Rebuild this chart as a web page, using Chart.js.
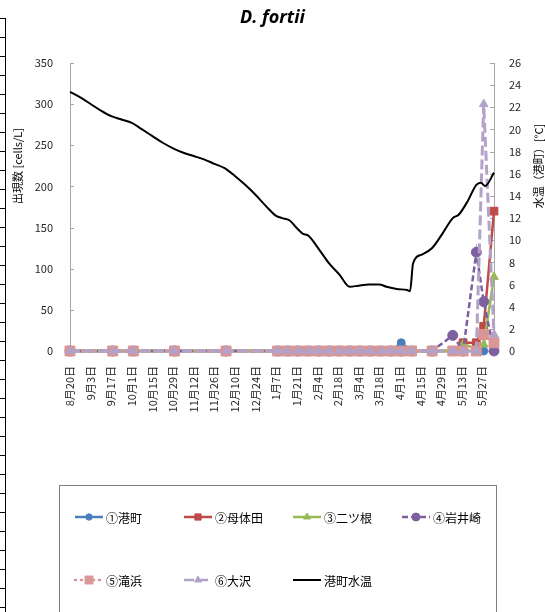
<!DOCTYPE html>
<html>
<head>
<meta charset="utf-8">
<title>D. fortii</title>
<script src="https://cdn.jsdelivr.net/npm/chart.js"></script>
<style>
  body { margin: 0; background: #fff; }
  #wrap { position: relative; width: 545px; height: 612px; }
  /* spreadsheet cell edge visible at the left of the screenshot */
  #cells {
    position: absolute; left: 0; top: 18px; width: 5px; height: 594px;
    border-right: 1px solid #000;
    background: repeating-linear-gradient(to bottom, #000 0, #000 1px, transparent 1px, transparent 19px);
  }
</style>
</head>
<body>
<div id="wrap">
  <canvas id="chart"></canvas>
  <div id="cells"></div>
</div>
<script>
// sampling dates (season 2012-2013)
const sampleDates = ['8/20', '9/18', '10/2', '10/30', '12/4', '1/8', '1/15', '1/22', '1/29', '2/5',
    '2/12', '2/19', '2/26', '3/5', '3/12', '3/19', '3/26', '4/2', '4/9', '4/23',
    '5/7', '5/14', '5/23', '5/28', '6/4'];

// cells/L per station
const minatomachi = [0, 0, 0, 0, 0, 0, 0, 0, 0, 0, 0, 0, 0, 0, 0, 0, 0, 10, 0, 0, 0, 0, 0, 0, null];
const motaida     = [0, 0, 0, 0, 0, 0, 0, 0, 0, 0, 0, 0, 0, 0, 0, 0, 0, 0, 0, 0, 0, 10, 10, 30, 170];
const futatsune   = [0, 0, 0, 0, 0, 0, 0, 0, 0, 0, 0, 0, 0, 0, 0, 0, 0, 0, 0, 0, 0, 8, 3, 8, 90];
const iwaisaki    = [0, 0, 0, 0, 0, 0, 0, 0, 0, 0, 0, 0, 0, 0, 0, 0, 0, 0, 0, 0, 19, 0, 120, 60, 0];
const takinohama  = [0, 0, 0, 0, 0, 0, 0, 0, 0, 0, 0, 0, 0, 0, 0, 0, 0, 0, 0, 0, 0, 0, 0, 20, 10];
const osawa       = [0, 0, 0, 0, 0, 0, 0, 0, 0, 0, 0, 0, 0, 0, 0, 0, 0, 0, 0, 0, 0, 0, 0, 300, 20];

// water temperature at Minatomachi [°C]
const tempDates = ['8/20', '8/27', '9/3', '9/10', '9/17', '9/24', '10/1', '10/8', '10/15', '10/22',
    '10/29', '11/5', '11/12', '11/19', '11/26', '12/3', '12/10', '12/17', '12/24', '12/31',
    '1/7', '1/11', '1/16', '1/21', '1/25', '1/29', '2/5', '2/12', '2/19', '2/26',
    '3/4', '3/11', '3/18', '3/23', '3/30', '4/6', '4/8', '4/10', '4/16', '4/23',
    '4/30', '5/7', '5/11', '5/17', '5/23', '5/26', '5/29', '6/4'];
const tempValues = [23.4, 22.9, 22.3, 21.7, 21.2, 20.9, 20.6, 20.0, 19.4, 18.8,
    18.3, 17.9, 17.6, 17.3, 16.9, 16.5, 15.8, 15.0, 14.1, 13.1,
    12.2, 12.0, 11.8, 11.1, 10.6, 10.4, 9.2, 7.9, 6.9, 5.8,
    5.9, 6.0, 6.0, 5.8, 5.6, 5.5, 5.4, 7.9, 8.7, 9.3,
    10.6, 12.0, 12.3, 13.5, 15.0, 15.2, 14.9, 16.1];

// axis ticks
const xTickDates = ['8/20', '9/3', '9/17', '10/1', '10/15', '10/29', '11/12', '11/26', '12/10', '12/24',
    '1/7', '1/21', '2/4', '2/18', '3/4', '3/18', '4/1', '4/15', '4/29', '5/13', '5/27'];
const xMinDate = '8/20';
const xMaxDate = '6/4';
const countTicks = [0, 50, 100, 150, 200, 250, 300, 350];
const tempTicks = [0, 2, 4, 6, 8, 10, 12, 14, 16, 18, 20, 22, 24, 26];

const FONT = '"Noto Sans CJK JP", "Noto Sans", sans-serif';
const START = Date.UTC(2012, 7, 20);

function dayOf(s) {
    const [m, d] = s.split('/').map(Number);
    const year = m >= 8 ? 2012 : 2013;
    return Math.round((Date.UTC(year, m - 1, d) - START) / 86400000);
}

function dateLabel(day) {
    const dt = new Date(START + day * 86400000);
    return (dt.getUTCMonth() + 1) + '月' + dt.getUTCDate() + '日';
}

function station(label, values, color, style, radius, extra) {
    return Object.assign({
        label: label,
        data: values,
        yAxisID: 'y',
        borderColor: color,
        backgroundColor: color,
        pointBackgroundColor: color,
        pointBorderColor: color,
        borderWidth: 2.5,
        pointStyle: style,
        pointRadius: radius,
        pointBorderWidth: 1,
        legendRadius: radius * 0.8,
        tension: 0,
        clip: false
    }, extra || {});
}

const datasets = [
    station('①港町', minatomachi, '#4a7ebb', 'circle', 4),
    station('②母体田', motaida, '#be4b48', 'rect', 5.5),
    station('③二ツ根', futatsune, '#98b954', 'triangle', 5),
    station('④岩井崎', iwaisaki, '#7d60a0', 'circle', 5, {borderDash: [6, 3]}),
    station('⑤滝浜', takinohama, '#d99694', 'rect', 7, {borderDash: [1, 5], borderCapStyle: 'round', borderWidth: 2.5}),
    station('⑥大沢', osawa, '#b3a2c7', 'triangle', 5, {borderDash: [10, 4], borderWidth: 3}),
    {
        label: '港町水温',
        data: tempDates.map((d, i) => ({x: dayOf(d), y: tempValues[i]})),
        yAxisID: 'y1',
        borderColor: '#000',
        backgroundColor: '#000',
        borderWidth: 2,
        pointRadius: 0,
        cubicInterpolationMode: 'monotone',
        clip: false
    }
];
// Excel draws later series on top
datasets.forEach((ds, i) => { ds.order = datasets.length - i; });

// little tick marks pointing into the plot
const innerTicks = {
    id: 'innerTicks',
    beforeDatasetsDraw(chart) {
        const ctx = chart.ctx;
        ctx.save();
        ctx.strokeStyle = '#a6a6a6';
        ctx.lineWidth = 1;
        const y = chart.scales.y, y1 = chart.scales.y1;
        y.ticks.forEach(t => {
            const py = Math.round(y.getPixelForValue(t.value)) + 0.5;
            ctx.beginPath(); ctx.moveTo(y.right, py); ctx.lineTo(y.right + 4, py); ctx.stroke();
        });
        y1.ticks.forEach(t => {
            const py = Math.round(y1.getPixelForValue(t.value)) + 0.5;
            ctx.beginPath(); ctx.moveTo(y1.left - 4, py); ctx.lineTo(y1.left, py); ctx.stroke();
        });
        ctx.restore();
    }
};

// axis titles placed where the spreadsheet put them
const axisTitles = {
    id: 'axisTitles',
    afterDraw(chart) {
        const ctx = chart.ctx;
        ctx.save();
        ctx.fillStyle = '#000';
        ctx.font = '11px ' + FONT;
        ctx.textAlign = 'center';
        ctx.textBaseline = 'middle';
        [['出現数 [cells/L]', 18], ['水温（港町）[°C]', 539]].forEach(([text, x]) => {
            ctx.save();
            ctx.translate(x, 166);
            ctx.rotate(-Math.PI / 2);
            ctx.fillText(text, 0, 0);
            ctx.restore();
        });
        ctx.restore();
    }
};

// legend in a framed box, four entries per row
const boxLegend = {
    id: 'boxLegend',
    afterDraw(chart) {
        const ctx = chart.ctx;
        ctx.save();
        ctx.strokeStyle = '#7f7f7f';
        ctx.lineWidth = 1;
        ctx.strokeRect(59.5, 485.5, 437, 140);
        chart.data.datasets.forEach((ds, i) => {
            const x = 75 + (i % 4) * 109;
            const y = 517 + Math.floor(i / 4) * 63;
            ctx.save();
            ctx.strokeStyle = ds.borderColor;
            ctx.lineWidth = Math.min(ds.borderWidth, 2.5);
            ctx.lineCap = ds.borderCapStyle || 'butt';
            ctx.setLineDash(ds.borderDash || []);
            ctx.beginPath(); ctx.moveTo(x, y); ctx.lineTo(x + 28, y); ctx.stroke();
            ctx.restore();
            if (ds.pointRadius > 0) {
                ctx.save();
                ctx.fillStyle = ds.pointBackgroundColor;
                ctx.strokeStyle = ds.pointBorderColor;
                ctx.lineWidth = 1;
                Chart.helpers.drawPoint(ctx, {pointStyle: ds.pointStyle, radius: ds.legendRadius, borderWidth: 1, rotation: 0}, x + 14, y);
                ctx.restore();
            }
            ctx.fillStyle = '#000';
            ctx.font = '12px ' + FONT;
            ctx.textAlign = 'left';
            ctx.textBaseline = 'middle';
            ctx.fillText(ds.label, x + 31, y + 1);
        });
        ctx.restore();
    }
};

new Chart(document.getElementById('chart'), {
    type: 'line',
    data: {
        labels: sampleDates.map(dayOf),
        datasets: datasets
    },
    plugins: [innerTicks, axisTitles, boxLegend],
    options: {
        responsive: true,
        maintainAspectRatio: false,
        animation: false,
        layout: {padding: {top: 0, left: 0, right: 0, bottom: 200}},
        plugins: {
            legend: {display: false},
            tooltip: {enabled: false},
            title: {
                display: true,
                text: 'D. fortii',
                color: '#000',
                font: {family: '"Open Sans", sans-serif', size: 18, weight: 'bold', style: 'italic'},
                padding: {top: 7, bottom: 34.4}
            }
        },
        scales: {
            x: {
                type: 'linear',
                min: dayOf(xMinDate),
                max: dayOf(xMaxDate),
                grid: {display: false},
                border: {display: true, color: '#a6a6a6'},
                afterBuildTicks: scale => { scale.ticks = xTickDates.map(d => ({value: dayOf(d)})); },
                afterFit: scale => { scale.height = 61; },
                ticks: {
                    autoSkip: false,
                    minRotation: 90,
                    maxRotation: 90,
                    padding: 7,
                    color: '#262626',
                    font: {family: FONT, size: 11},
                    callback: value => dateLabel(value)
                }
            },
            y: {
                position: 'left',
                min: 0,
                max: 350,
                grid: {display: false},
                border: {display: true, color: '#a6a6a6'},
                afterBuildTicks: scale => { scale.ticks = countTicks.map(v => ({value: v})); },
                afterFit: scale => { scale.width = 70; },
                ticks: {padding: 9, color: '#262626', font: {family: FONT, size: 11}}
            },
            y1: {
                position: 'right',
                min: 0,
                max: 26,
                grid: {display: false},
                border: {display: true, color: '#a6a6a6'},
                afterBuildTicks: scale => { scale.ticks = tempTicks.map(v => ({value: v})); },
                afterFit: scale => { scale.width = 51; },
                ticks: {padding: 7, color: '#262626', font: {family: FONT, size: 11}}
            }
        }
    }
});
</script>
</body>
</html>
